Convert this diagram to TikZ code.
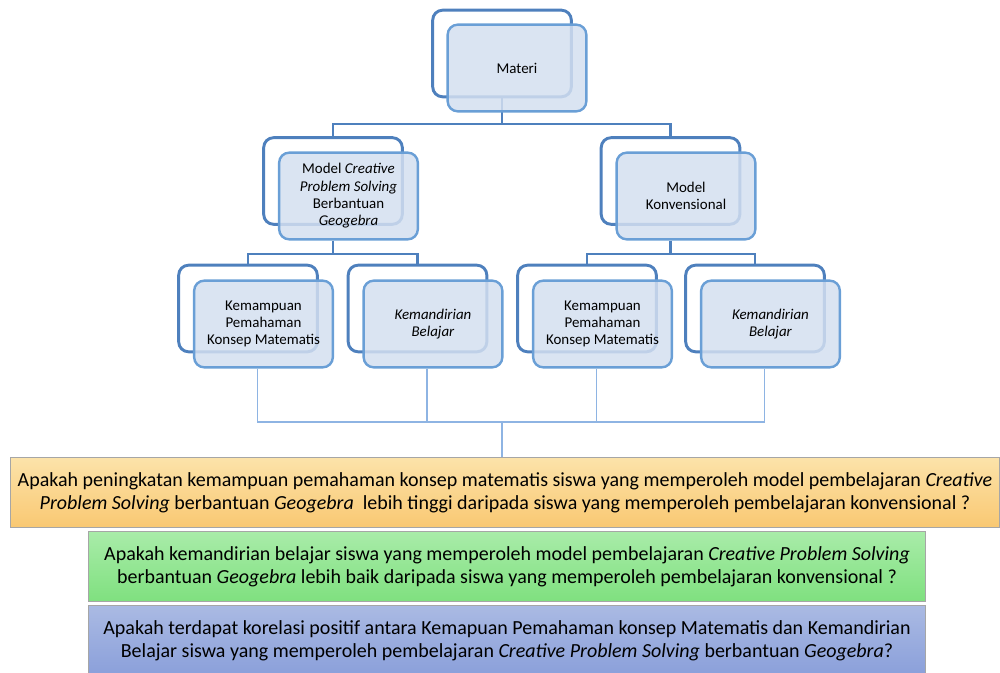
\documentclass[tikz,border=0pt]{standalone}
\usepackage{fontspec}
\setmainfont{Carlito}
\usetikzlibrary{calc}

\definecolor{backblue}{HTML}{4E80BD}
\definecolor{frontblue}{HTML}{6A9FD6}
\definecolor{cardfill}{HTML}{D3DFF0}
\definecolor{lowblue}{HTML}{8EB4E3}
\definecolor{qorangetop}{HTML}{FCE3AA}
\definecolor{qorangebot}{HTML}{F9C872}
\definecolor{qgreentop}{HTML}{A9ECA9}
\definecolor{qgreenbot}{HTML}{7FE07F}
\definecolor{qbluetop}{HTML}{AABAE3}
\definecolor{qbluebot}{HTML}{8A9FDA}

\begin{document}
\begin{tikzpicture}[x=0.75pt,y=-0.75pt,
	backbox/.style={draw=backblue, line width=2.2pt, rounded corners=7.5pt,
		minimum width=104pt, minimum height=65pt},
	frontbox/.style={draw=frontblue, line width=1.8pt, rounded corners=7.5pt,
		fill=cardfill, fill opacity=0.85, text opacity=1,
		minimum width=104pt, minimum height=65pt, align=center,
		font=\fontsize{11.2}{13}\selectfont},
	upline/.style={draw=backblue, line width=1.9pt},
	lowline/.style={draw=lowblue, line width=1.1pt},
	qbox/.style={draw=gray!70, line width=0.8pt, align=center,
		minimum height=53pt, font=\fontsize{15}{17.25}\selectfont}]

\useasboundingbox (0,0) rectangle (1000,673);

% back cards
\node[backbox] (materi-b) at (502,53.5) {};
\node[backbox] (mcps-b) at (333,181) {};
\node[backbox] (mkon-b) at (670.5,181) {};

% upper connectors
\coordinate (j1) at (502,124);
\draw[upline] (materi-b.south) -- (j1);
\draw[upline] (mcps-b.north) |- (j1) -| (mkon-b.north);

% front cards
\node[frontbox] (materi) at (517,68) {Materi};
\node[frontbox] (mcps) at (348.5,196) {Model \textit{Creative}\\\textit{Problem Solving}\\Berbantuan\\\textit{Geogebra}};
\node[frontbox] (mkon) at (686,196) {Model\\Konvensional};

\foreach \x/\n/\t in {248/ka/{Kemampuan\\Pemahaman\\Konsep Matematis},
	417.5/kb/{\textit{Kemandirian}\\\textit{Belajar}},
	587/kc/{Kemampuan\\Pemahaman\\Konsep Matematis},
	755/kd/{\textit{Kemandirian}\\\textit{Belajar}}}  {
	\node[backbox] (\n-b) at (\x,308.5) {};
	\node[frontbox] (\n) at (\x+15.5,324) {\t};
}

\coordinate (j2) at ($(mcps-b.south)+(0,28)$);
\coordinate (j3) at ($(mkon-b.south)+(0,28)$);
\draw[upline] (mcps.south -| mcps-b.south) -- (j2);
\draw[upline] (mkon.south -| mkon-b.south) -- (j3);
\draw[upline] (ka-b.north) |- (j2) -| (kb-b.north);
\draw[upline] (kc-b.north) |- (j3) -| (kd-b.north);

% questions
\node[qbox, minimum width=742pt, top color=qorangetop, bottom color=qorangebot] (q1) at (505,492.5)
	{Apakah peningkatan kemampuan pemahaman konsep matematis siswa yang memperoleh model pembelajaran \textit{Creative}\\
	\textit{Problem Solving} berbantuan \textit{Geogebra}\ \ lebih tinggi daripada siswa yang memperoleh pembelajaran konvensional ?};
\node[qbox, minimum width=628pt, top color=qgreentop, bottom color=qgreenbot] (q2) at (507,566.5)
	{Apakah kemandirian belajar siswa yang memperoleh model pembelajaran \textit{Creative Problem Solving}\\
	berbantuan \textit{Geogebra} lebih baik daripada siswa yang memperoleh pembelajaran konvensional ?};
\node[qbox, minimum width=628pt, top color=qbluetop, bottom color=qbluebot] (q3) at (507,641)
	{Apakah terdapat korelasi positif antara Kemapuan Pemahaman konsep Matematis dan Kemandirian\\
	Belajar siswa yang memperoleh pembelajaran \textit{Creative Problem Solving} berbantuan \textit{Geogebra}?};

% lower connectors
\coordinate (j4) at (502,422);
\draw[lowline] ([xshift=-4.5pt]ka.south) |- (j4) -| ([xshift=-4.5pt]kd.south);
\draw[lowline] ([xshift=-4.5pt]kb.south) |- (j4);
\draw[lowline] ([xshift=-4.5pt]kc.south) |- (j4);
\draw[lowline] (j4) -- (j4 |- q1.north);

\end{tikzpicture}
\end{document}
